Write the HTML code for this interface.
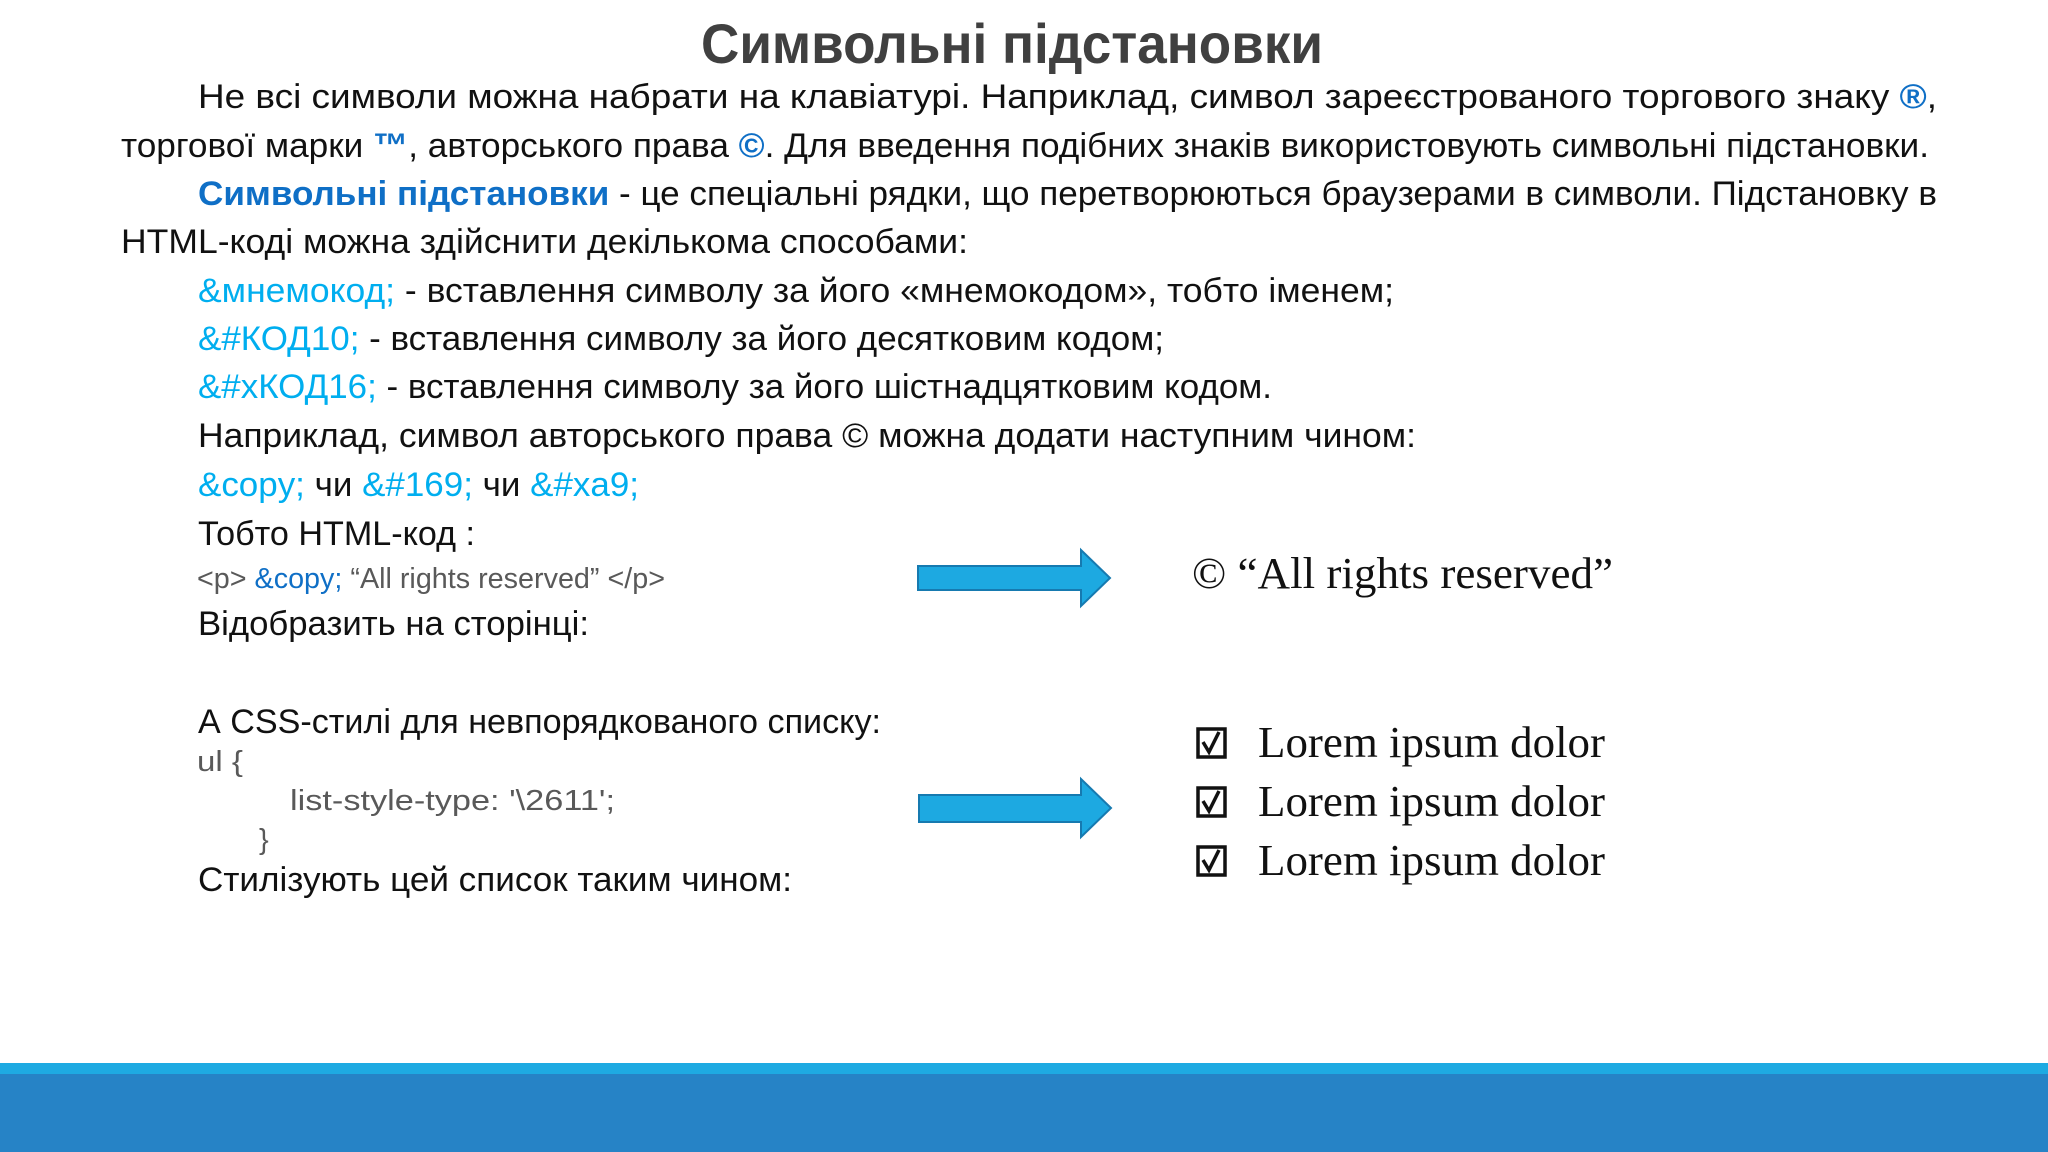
<!DOCTYPE html>
<html><head><meta charset="utf-8"><style>
html,body{margin:0;padding:0;background:#fff;}
svg{display:block;}
text{font-family:"Liberation Sans",sans-serif;}
.b{font-size:34px;fill:#111;}
.c{fill:#00aeef;}
.d{fill:#0f6fc6;font-weight:bold;}
.g{font-size:29px;fill:#595959;}
.s{font-family:"Liberation Serif",serif;font-size:44px;fill:#111;}
</style></head><body>
<svg width="2048" height="1152" viewBox="0 0 2048 1152">
<text x="1012" y="63" text-anchor="middle" font-size="56" font-weight="bold" fill="#404040" textLength="622" lengthAdjust="spacingAndGlyphs">Символьні підстановки</text>

<text class="b" x="198" y="108" textLength="1739" lengthAdjust="spacingAndGlyphs">Не всі символи можна набрати на клавіатурі. Наприклад, символ зареєстрованого торгового знаку <tspan class="d">®</tspan>,</text>
<text class="b" x="121" y="157" textLength="1808" lengthAdjust="spacingAndGlyphs">торгової марки <tspan class="d">™</tspan>, авторського права <tspan class="d">©</tspan>. Для введення подібних знаків використовують символьні підстановки.</text>
<text class="b" x="198" y="205" textLength="1739" lengthAdjust="spacingAndGlyphs"><tspan class="d">Символьні підстановки</tspan> - це спеціальні рядки, що перетворюються браузерами в символи. Підстановку в</text>
<text class="b" x="121" y="253" textLength="847" lengthAdjust="spacingAndGlyphs">HTML-коді можна здійснити декількома способами:</text>
<text class="b" x="198" y="302" textLength="1196" lengthAdjust="spacingAndGlyphs"><tspan class="c">&amp;мнемокод;</tspan> - вставлення символу за його «мнемокодом», тобто іменем;</text>
<text class="b" x="198" y="350" textLength="966" lengthAdjust="spacingAndGlyphs"><tspan class="c">&amp;#КОД10;</tspan> - вставлення символу за його десятковим кодом;</text>
<text class="b" x="198" y="398" textLength="1074" lengthAdjust="spacingAndGlyphs"><tspan class="c">&amp;#xКОД16;</tspan> - вставлення символу за його шістнадцятковим кодом.</text>
<text class="b" x="198" y="447" textLength="1218" lengthAdjust="spacingAndGlyphs">Наприклад, символ авторського права © можна додати наступним чином:</text>
<text class="b" x="198" y="496" textLength="441" lengthAdjust="spacingAndGlyphs"><tspan class="c">&amp;copy;</tspan> чи <tspan class="c">&amp;#169;</tspan> чи <tspan class="c">&amp;#xa9;</tspan></text>
<text class="b" x="198" y="545" textLength="277" lengthAdjust="spacingAndGlyphs">Тобто HTML-код :</text>
<text class="g" x="197" y="588" textLength="468" lengthAdjust="spacingAndGlyphs">&lt;p&gt; <tspan fill="#0f6fc6">&amp;copy;</tspan> “All rights reserved” &lt;/p&gt;</text>
<text class="b" x="198" y="635" textLength="391" lengthAdjust="spacingAndGlyphs">Відобразить на сторінці:</text>
<text class="b" x="198" y="733" textLength="683" lengthAdjust="spacingAndGlyphs">А CSS-стилі для невпорядкованого списку:</text>
<text class="g" x="197" y="771" textLength="46" lengthAdjust="spacingAndGlyphs">ul {</text>
<text class="g" x="290" y="810" textLength="325" lengthAdjust="spacingAndGlyphs">list-style-type: '\2611';</text>
<text class="g" x="259" y="849">}</text>
<text class="b" x="198" y="891" textLength="594" lengthAdjust="spacingAndGlyphs">Стилізують цей список таким чином:</text>

<text class="s" x="1192" y="588" textLength="421" lengthAdjust="spacingAndGlyphs">© “All rights reserved”</text>

<g stroke="#111" stroke-width="3.5" fill="none">
<rect x="1198" y="729" width="27" height="28"/>
<rect x="1198" y="788" width="27" height="28"/>
<rect x="1198" y="847" width="27" height="28"/>
<path d="M1203 742 l6 10 l10 -20"/>
<path d="M1203 801 l6 10 l10 -20"/>
<path d="M1203 860 l6 10 l10 -20"/>
</g>
<text class="s" x="1258" y="757" textLength="347" lengthAdjust="spacingAndGlyphs">Lorem ipsum dolor</text>
<text class="s" x="1258" y="816" textLength="347" lengthAdjust="spacingAndGlyphs">Lorem ipsum dolor</text>
<text class="s" x="1258" y="875" textLength="347" lengthAdjust="spacingAndGlyphs">Lorem ipsum dolor</text>

<path d="M918 566 H1081 V550 L1110 578 L1081 606 V590 H918 Z" fill="#1da9e1" stroke="#167ab0" stroke-width="2"/>
<path d="M919 795 H1081 V779 L1111 808 L1081 837 V822 H919 Z" fill="#1da9e1" stroke="#167ab0" stroke-width="2"/>

<rect x="0" y="1063" width="2048" height="11" fill="#1eaae2"/>
<rect x="0" y="1074" width="2048" height="78" fill="#2683c6"/>
</svg>
</body></html>
